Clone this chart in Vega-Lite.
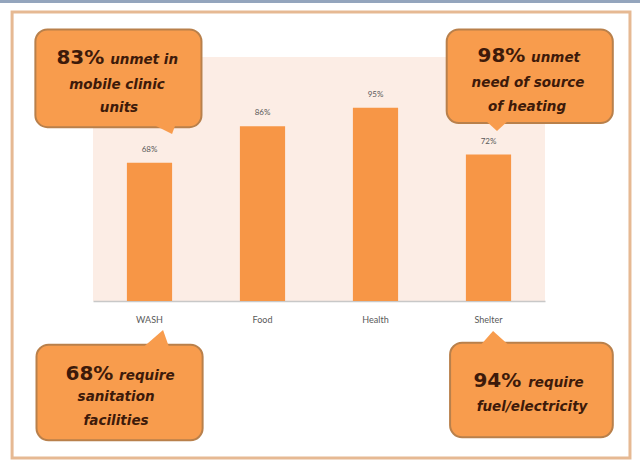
{
  "$schema": "https://vega.github.io/schema/vega-lite/v6.json",
  "width": 452,
  "height": 244,
  "autosize": "none",
  "padding": {"left": 93, "top": 57, "right": 95, "bottom": 161},
  "background": "white",
  "view": {"fill": "#fcede5", "stroke": null},
  "datasets": {
    "bars": [
      {"category": "WASH", "value": 68, "label": "68%"},
      {"category": "Food", "value": 86, "label": "86%"},
      {"category": "Health", "value": 95, "label": "95%"},
      {"category": "Shelter", "value": 72, "label": "72%"}
    ],
    "boxes": [
      {"x1": -0.01, "x2": 1.46, "y1": 85.5, "y2": 133.5},
      {"x1": 3.63, "x2": 5.1, "y1": 87.5, "y2": 133.5},
      {"x1": 0.0, "x2": 1.47, "y1": -68.5, "y2": -21.5},
      {"x1": 3.66, "x2": 5.1, "y1": -67, "y2": -20.5}
    ],
    "texts": [
      {"ax": 0.6, "ay": 116.6, "t": "83%", "kind": "big"},
      {"ax": 4.326, "ay": 117.5, "t": "98%", "kind": "big"},
      {"ax": 0.68, "ay": -38.9, "t": "68%", "kind": "big"},
      {"ax": 4.29, "ay": -42.3, "t": "94%", "kind": "big"},
      {"ax": 0.652, "ay": 116.6, "t": "unmet in", "kind": "small"},
      {"ax": 4.377, "ay": 117.5, "t": "unmet", "kind": "small"},
      {"ax": 0.731, "ay": -38.9, "t": "require", "kind": "small"},
      {"ax": 4.351, "ay": -42.3, "t": "require", "kind": "small"},
      {"ax": 0.712, "ay": 106.2, "t": "mobile clinic", "kind": "line"},
      {"ax": 0.73, "ay": 94.9, "t": "units", "kind": "line"},
      {"ax": 4.35, "ay": 107.2, "t": "need of source", "kind": "line"},
      {"ax": 4.341, "ay": 95.4, "t": "of heating", "kind": "line"},
      {"ax": 0.704, "ay": -47.2, "t": "sanitation", "kind": "line"},
      {"ax": 0.704, "ay": -59.0, "t": "facilities", "kind": "line"},
      {"ax": 4.385, "ay": -52.1, "t": "fuel/electricity", "kind": "line"}
    ]
  },
  "layer": [
    {
      "data": {"values": [{"x1": -0.216, "x2": 5.252, "y1": -77.2, "y2": 142.1}]},
      "mark": {"type": "rect", "fill": null, "filled": false, "stroke": "#e6b993", "strokeWidth": 3},
      "encoding": {
        "x": {"field": "x1", "type": "quantitative", "scale": {"domain": [0.5, 4.5], "nice": false, "zero": false}, "axis": null},
        "x2": {"field": "x2"},
        "y": {"field": "y1", "type": "quantitative", "scale": {"domain": [0, 120], "nice": false, "zero": false}, "axis": null},
        "y2": {"field": "y2"}
      }
    },
    {
      "data": {"values": [{"x1": -0.4, "x2": 5.4, "y": 147.3}]},
      "mark": {"type": "rule", "stroke": "#94a5bd", "strokeWidth": 3},
      "encoding": {
        "x": {"field": "x1", "type": "quantitative", "scale": {"domain": [0.5, 4.5], "nice": false, "zero": false}, "axis": null},
        "x2": {"field": "x2"},
        "y": {"field": "y", "type": "quantitative", "scale": {"domain": [0, 120], "nice": false, "zero": false}, "axis": null}
      }
    },
    {
      "data": {"name": "bars"},
      "mark": {"type": "bar", "color": "#f79646"},
      "encoding": {
        "x": {
          "field": "category", "type": "nominal", "sort": null,
          "scale": {"paddingInner": 0.6, "paddingOuter": 0.3},
          "axis": {"title": null, "labelAngle": 0, "ticks": false, "domainColor": "#c8c8c8", "domainWidth": 1.5, "labelPadding": 14, "labelFontSize": 9, "labelColor": "#595959", "labelFont": "Lato"}
        },
        "y": {"field": "value", "type": "quantitative", "scale": {"domain": [0, 120], "nice": false}, "axis": null}
      }
    },
    {
      "data": {"name": "bars"},
      "mark": {"type": "text", "dy": -13, "baseline": "middle", "fontSize": 8, "color": "#595959", "font": "Lato"},
      "encoding": {
        "x": {"field": "category", "type": "nominal", "sort": null, "scale": {"paddingInner": 0.6, "paddingOuter": 0.3}, "axis": null},
        "y": {"field": "value", "type": "quantitative", "scale": {"domain": [0, 120], "nice": false}, "axis": null},
        "text": {"field": "label"}
      }
    },
    {
      "data": {"name": "boxes"},
      "mark": {"type": "rect", "fill": "#f89c4d", "stroke": "#b9804b", "strokeWidth": 2, "cornerRadius": 12},
      "encoding": {
        "x": {"field": "x1", "type": "quantitative", "scale": {"domain": [0.5, 4.5], "nice": false, "zero": false}, "axis": null},
        "x2": {"field": "x2"},
        "y": {"field": "y1", "type": "quantitative", "scale": {"domain": [0, 120], "nice": false, "zero": false}, "axis": null},
        "y2": {"field": "y2"}
      }
    },
    {
      "data": {"values": [{"ax": 1.111, "ay": 86.07}]},
      "mark": {"type": "point", "shape": "M-1.2,-0.3L1.4,-0.3L1,0.8Z", "size": 400, "filled": true, "fill": "#f89c4d", "opacity": 1, "strokeWidth": 0},
      "encoding": {
        "x": {"field": "ax", "type": "quantitative", "scale": {"domain": [0.5, 4.5], "nice": false, "zero": false}, "axis": null},
        "y": {"field": "ay", "type": "quantitative", "scale": {"domain": [0, 120], "nice": false, "zero": false}, "axis": null}
      }
    },
    {
      "data": {"values": [{"ax": 4.075, "ay": 87.54}]},
      "mark": {"type": "point", "shape": "M-1.2,-0.3L1.2,-0.3L0,0.8Z", "size": 400, "filled": true, "fill": "#f89c4d", "opacity": 1, "strokeWidth": 0},
      "encoding": {
        "x": {"field": "ax", "type": "quantitative", "scale": {"domain": [0.5, 4.5], "nice": false, "zero": false}, "axis": null},
        "y": {"field": "ay", "type": "quantitative", "scale": {"domain": [0, 120], "nice": false, "zero": false}, "axis": null}
      }
    },
    {
      "data": {"values": [{"ax": 1.049, "ay": -22.6}]},
      "mark": {"type": "point", "shape": "M-1.5,0.3L1.5,0.3L0.8,-1.7Z", "size": 400, "filled": true, "fill": "#f89c4d", "opacity": 1, "strokeWidth": 0},
      "encoding": {
        "x": {"field": "ax", "type": "quantitative", "scale": {"domain": [0.5, 4.5], "nice": false, "zero": false}, "axis": null},
        "y": {"field": "ay", "type": "quantitative", "scale": {"domain": [0, 120], "nice": false, "zero": false}, "axis": null}
      }
    },
    {
      "data": {"values": [{"ax": 4.058, "ay": -21.64}]},
      "mark": {"type": "point", "shape": "M-1.7,0.3L1.7,0.3L-0.2,-1.4Z", "size": 400, "filled": true, "fill": "#f89c4d", "opacity": 1, "strokeWidth": 0},
      "encoding": {
        "x": {"field": "ax", "type": "quantitative", "scale": {"domain": [0.5, 4.5], "nice": false, "zero": false}, "axis": null},
        "y": {"field": "ay", "type": "quantitative", "scale": {"domain": [0, 120], "nice": false, "zero": false}, "axis": null}
      }
    },
    {
      "data": {"name": "texts"},
      "transform": [{"filter": "datum.kind === 'big'"}],
      "mark": {"type": "text", "align": "right", "baseline": "alphabetic", "fontSize": 20, "fontWeight": "bold", "font": "DejaVu Sans", "color": "#3d1a0a"},
      "encoding": {
        "x": {"field": "ax", "type": "quantitative", "scale": {"domain": [0.5, 4.5], "nice": false, "zero": false}, "axis": null},
        "y": {"field": "ay", "type": "quantitative", "scale": {"domain": [0, 120], "nice": false, "zero": false}, "axis": null},
        "text": {"field": "t"}
      }
    },
    {
      "data": {"name": "texts"},
      "transform": [{"filter": "datum.kind === 'small'"}],
      "mark": {"type": "text", "align": "left", "baseline": "alphabetic", "fontSize": 13.5, "fontWeight": "bold", "fontStyle": "italic", "font": "DejaVu Sans", "color": "#3d1a0a"},
      "encoding": {
        "x": {"field": "ax", "type": "quantitative", "scale": {"domain": [0.5, 4.5], "nice": false, "zero": false}, "axis": null},
        "y": {"field": "ay", "type": "quantitative", "scale": {"domain": [0, 120], "nice": false, "zero": false}, "axis": null},
        "text": {"field": "t"}
      }
    },
    {
      "data": {"name": "texts"},
      "transform": [{"filter": "datum.kind === 'line'"}],
      "mark": {"type": "text", "align": "center", "baseline": "middle", "fontSize": 13.5, "fontWeight": "bold", "fontStyle": "italic", "font": "DejaVu Sans", "color": "#3d1a0a"},
      "encoding": {
        "x": {"field": "ax", "type": "quantitative", "scale": {"domain": [0.5, 4.5], "nice": false, "zero": false}, "axis": null},
        "y": {"field": "ay", "type": "quantitative", "scale": {"domain": [0, 120], "nice": false, "zero": false}, "axis": null},
        "text": {"field": "t"}
      }
    }
  ],
  "resolve": {"scale": {"x": "independent", "y": "independent"}}
}
